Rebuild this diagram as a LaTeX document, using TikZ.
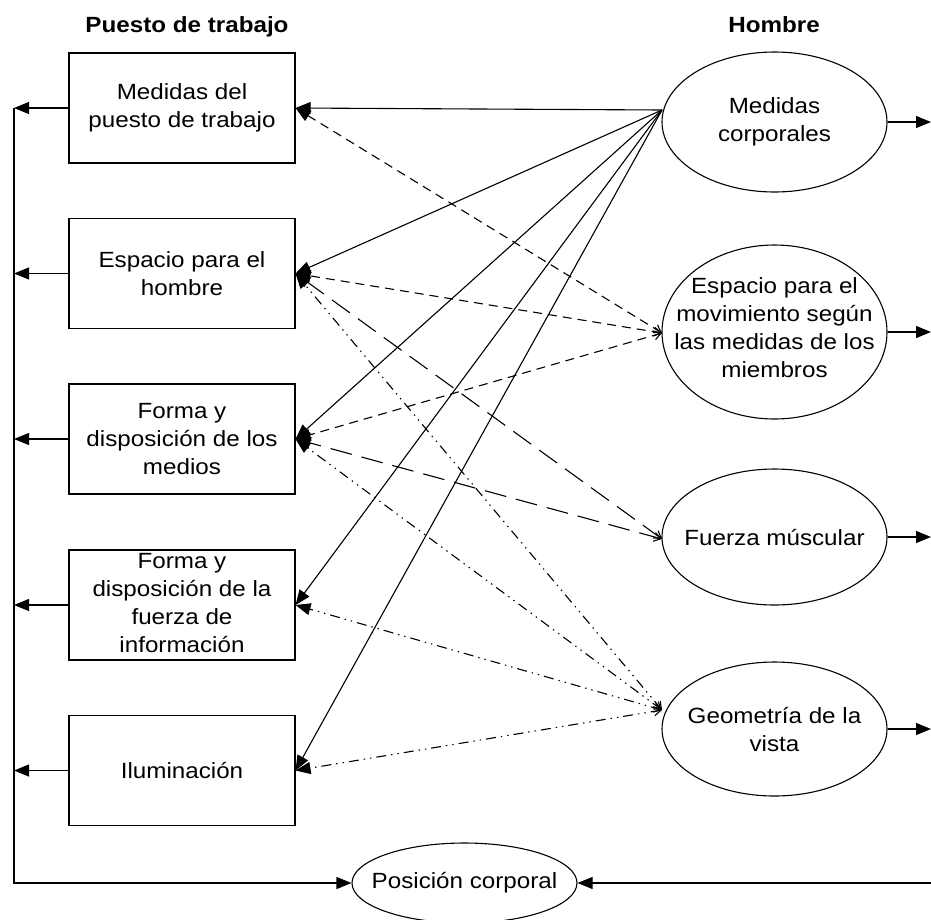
\documentclass[tikz,border=0pt]{standalone}
\usepackage{fontspec}
\setmainfont{Liberation Sans}[FakeStretch=1.1]
\usetikzlibrary{arrows.meta,shapes.geometric}

\begin{document}
\begin{tikzpicture}[x=1pt,y=-1pt,
  line width=1.1pt,
  boxnode/.style={draw,rectangle,minimum width=226pt,minimum height=110pt,inner sep=0pt},
  ellnode/.style={draw,ellipse,minimum width=225pt,inner sep=0pt},
  lbl/.style={font=\fontsize{22}{28}\selectfont,align=center,inner sep=0pt},
  heading/.style={font=\fontsize{22}{28}\selectfont\bfseries,inner sep=0pt,anchor=base},
  fhead/.style={-{Triangle[length=15pt,width=12pt]}},
  ohead/.style={{Straight Barb[length=7pt,width=9pt]}-{Triangle[length=15pt,width=12pt]}},
  sdash/.style={ohead,dash pattern=on 9pt off 6pt},
  ldash/.style={ohead,dash pattern=on 22pt off 10pt},
  ddot/.style={ohead,dash pattern=on 10pt off 5pt on 1.4pt off 5pt on 1.4pt off 5pt}]

\useasboundingbox (0,0) rectangle (931,919);
\clip (0,0) rectangle (931,919);

% headings
\node[heading] (hpt) at (187,32) {Puesto de trabajo};
\node[heading] (hho) at (774,32) {Hombre};

% workplace boxes
\node[boxnode] (b1) at (182,108) {};
\node[boxnode] (b2) at (182,273.5) {};
\node[boxnode] (b3) at (182,439) {};
\node[boxnode] (b4) at (182,605) {};
\node[boxnode] (b5) at (182,770.5) {};
\node[lbl] (tb1) at (b1) {Medidas del\\puesto de trabajo};
\node[lbl] (tb2) at (b2) {Espacio para el\\hombre};
\node[lbl] (tb3) at (b3) {Forma y\\disposición de los\\medios};
\node[lbl] (tb4) at (182,603) {Forma y\\disposición de la\\fuerza de\\información};
\node[lbl] (tb5) at (b5) {Iluminación};

% human factors
\node[ellnode,minimum height=140pt] (e1) at (774.5,122) {};
\node[ellnode,minimum height=174pt] (e2) at (774.5,332) {};
\node[ellnode,minimum height=136pt] (e3) at (774.5,537) {};
\node[ellnode,minimum height=134pt] (e4) at (774.5,729) {};
\node[lbl] (te1) at (e1) {Medidas\\corporales};
\node[lbl] (te2) at (774.5,328) {Espacio para el\\movimiento según\\las medidas de los\\miembros};
\node[lbl] (te3) at (e3) {Fuerza múscular};
\node[lbl] (te4) at (e4) {Geometría de la\\vista};

% body posture
\node[ellnode,minimum height=80pt] (pos) at (464.5,883) {};
\node[lbl] (tpos) at (pos) {Posición corporal};

% meeting points on the left of the ellipses
\coordinate (m1) at (662,110);
\coordinate (m2) at (662,333);
\coordinate (m3) at (662,539);
\coordinate (m4) at (662,710);

% outer frame points
\coordinate (l1) at (14,108);
\coordinate (l2) at (14,273.5);
\coordinate (l3) at (14,439);
\coordinate (l4) at (14,605);
\coordinate (l5) at (14,770.5);
\coordinate (lb) at (14,883);
\coordinate (r1) at (931,122);
\coordinate (r2) at (931,332);
\coordinate (r3) at (931,537);
\coordinate (r4) at (931,729);
\coordinate (rb) at (931,883);

% left feedback line
\foreach \i in {1,...,5} \draw[fhead] (b\i.west) -- (l\i);
\draw[fhead] (l1) -- (lb) -- (pos.west);

% right outputs
\foreach \i in {1,...,4} \draw[fhead] (e\i.east) -- (r\i);
\draw[fhead] (rb) -- (pos.east);

% body measures
\foreach \i in {1,...,5} \draw[fhead] (m1) -- (b\i.east);

% movement space
\draw[sdash] (m2) -- (b1.east);
\draw[sdash] (m2) -- (b2.east);
\draw[sdash] (m2) -- (b3.east);

% muscular force
\draw[ldash] (m3) -- (b2.east);
\draw[ldash] (m3) -- (b3.east);

% geometry of vision
\draw[ddot] (m4) -- (b2.east);
\draw[ddot] (m4) -- (b3.east);
\draw[ddot] (m4) -- (b4.east);
\draw[ddot] (m4) -- (b5.east);
\end{tikzpicture}
\end{document}
